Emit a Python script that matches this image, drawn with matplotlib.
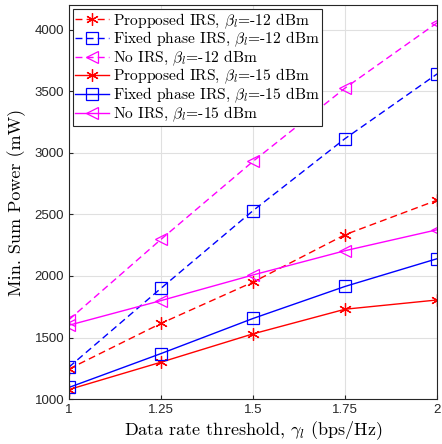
import matplotlib

matplotlib.use("Agg")

import matplotlib.pyplot as plt

rate = [1.0, 1.25, 1.5, 1.75, 2.0]

prop_12 = [1245, 1615, 1950, 2335, 2615]
fixed_12 = [1260, 1900, 2530, 3115, 3640]
noirs_12 = [1645, 2297, 2930, 3525, 4055]
prop_15 = [1078, 1300, 1530, 1730, 1805]
fixed_15 = [1095, 1370, 1655, 1915, 2140]
noirs_15 = [1600, 1800, 2008, 2205, 2375]

labels = [
    r"Propposed IRS, $\beta_l$=-12 dBm",
    r"Fixed phase IRS, $\beta_l$=-12 dBm",
    r"No IRS, $\beta_l$=-12 dBm",
    r"Propposed IRS, $\beta_l$=-15 dBm",
    r"Fixed phase IRS, $\beta_l$=-15 dBm",
    r"No IRS, $\beta_l$=-15 dBm",
]
xticks = [1, 1.25, 1.5, 1.75, 2]
xtick_labels = ["1", "1.25", "1.5", "1.75", "2"]
yticks = [1000, 1500, 2000, 2500, 3000, 3500, 4000]

plt.rcParams["mathtext.fontset"] = "cm"
plt.rcParams["axes.unicode_minus"] = False
serif = ["cmr10", "DejaVu Serif"]

fig = plt.figure(figsize=(4.42, 4.44), dpi=100)
ax = fig.add_axes([0.156, 0.101, 0.833, 0.888])

series = [prop_12, fixed_12, noirs_12, prop_15, fixed_15, noirs_15]
colors = ["#ff0000", "#0000ff", "#ff00ff"] * 2
markers = [(6, 2, 0), "s", "<"] * 2
styles = ["--"] * 3 + ["-"] * 3
for ys, c, m, ls, lab in zip(series, colors, markers, styles, labels):
    ax.plot(rate, ys, color=c, linestyle=ls, linewidth=1.0, marker=m,
            markersize=9 if m != "s" else 8, markerfacecolor="none",
            markeredgecolor=c, markeredgewidth=0.9, label=lab, dashes=(5, 3) if ls == "--" else (None, None))

ax.set_xlim(1, 2)
ax.set_ylim(1000, 4200)
ax.set_xticks(xticks)
ax.set_xticklabels(xtick_labels)
ax.set_yticks(yticks)
ax.tick_params(labelsize=9.5, colors="#262626", direction="in", length=3)
for lab in ax.get_xticklabels() + ax.get_yticklabels():
    lab.set_family(["Liberation Sans", "DejaVu Sans"])
ax.grid(True, color="#e0e0e0", linewidth=0.8)
for sp in ax.spines.values():
    sp.set_color("#262626")
    sp.set_linewidth(0.8)

ax.set_xlabel(r"Data rate threshold, $\gamma_l$ (bps/Hz)", family=serif, fontsize=13, labelpad=2)
ax.set_ylabel("Min. Sum Power (mW)", family=serif, fontsize=13, labelpad=6)

leg = ax.legend(loc="upper left", prop={"family": serif, "size": 11.2}, handlelength=2.2,
                handletextpad=0.2, borderpad=0.15, labelspacing=-0.05, borderaxespad=0.25,
                fancybox=False, edgecolor="#262626", framealpha=1)
leg.get_frame().set_linewidth(0.8)

fig.savefig("out.png", dpi=100)
